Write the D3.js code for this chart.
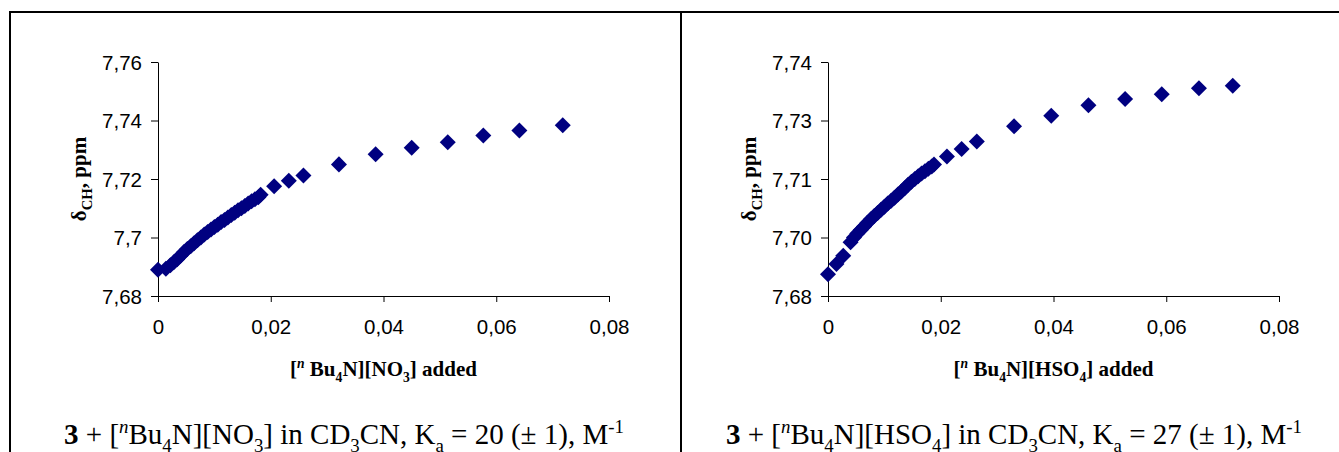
<!DOCTYPE html>
<html>
<head>
<meta charset="utf-8">
<script src="https://cdn.jsdelivr.net/npm/d3@7"></script>
<style>
  body { margin: 0; background: #fff; }
  svg { display: block; }
</style>
</head>
<body>
<div id="chart"></div>
<script>
// titration data: [nBu4N][NO3] added vs delta CH
const nitrateX = [0, 0.0014, 0.0022, 0.0028, 0.0034, 0.0040, 0.0046, 0.0052, 0.0058, 0.0064,
  0.0070, 0.0076, 0.0082, 0.0088, 0.0094, 0.0100, 0.0106, 0.0112, 0.0118, 0.0124,
  0.0130, 0.0136, 0.0142, 0.0148, 0.0154, 0.0160, 0.0166, 0.0172, 0.0178, 0.0182,
  0.0206, 0.0232, 0.0258, 0.0321, 0.0386, 0.0450, 0.0514, 0.0577, 0.0641, 0.0718];
const nitrateY = [7.6890, 7.6893, 7.6905, 7.6915, 7.6926, 7.6938, 7.6950, 7.6961, 7.6970, 7.6980,
  7.6991, 7.7000, 7.7010, 7.7019, 7.7027, 7.7036, 7.7044, 7.7053, 7.7060, 7.7068,
  7.7077, 7.7085, 7.7093, 7.7100, 7.7108, 7.7116, 7.7124, 7.7131, 7.7138, 7.7146,
  7.7175, 7.7194, 7.7212, 7.7250, 7.7285, 7.7307, 7.7326, 7.7349, 7.7366, 7.7384];

// [nBu4N][HSO4] added vs delta CH
const hso4X = [0, 0.0015, 0.0027, 0.0040, 0.0046, 0.0052, 0.0058, 0.0064, 0.0070, 0.0076,
  0.0082, 0.0088, 0.0094, 0.0100, 0.0106, 0.0112, 0.0118, 0.0124, 0.0130, 0.0136,
  0.0142, 0.0148, 0.0154, 0.0160, 0.0166, 0.0172, 0.0178, 0.0184, 0.0188,
  0.0211, 0.0237, 0.0264, 0.0330, 0.0396, 0.0462, 0.0527, 0.0592, 0.0658, 0.0718];
const hso4Y = [7.6856, 7.6882, 7.6903, 7.6938, 7.6950, 7.6960, 7.6969, 7.6978, 7.6988, 7.6997,
  7.7005, 7.7013, 7.7021, 7.7029, 7.7037, 7.7044, 7.7052, 7.7060, 7.7068, 7.7076,
  7.7085, 7.7093, 7.7100, 7.7107, 7.7114, 7.7120, 7.7126, 7.7132, 7.7137,
  7.7158, 7.7177, 7.7196, 7.7235, 7.7262, 7.7289, 7.7305, 7.7317, 7.7333, 7.7339];

const xTicks = [0, 0.02, 0.04, 0.06, 0.08];
const xTickLabels = ["0", "0,02", "0,04", "0,06", "0,08"];
const nitrateYTicks = [7.68, 7.70, 7.72, 7.74, 7.76];
const nitrateYTickLabels = ["7,68", "7,7", "7,72", "7,74", "7,76"];
const hso4YTicks = [7.68, 7.695, 7.71, 7.725, 7.74];
const hso4YTickLabels = ["7,68", "7,70", "7,71", "7,73", "7,74"];

const width = 1339, height = 452;
const sansFont = "'Liberation Sans', Arial, sans-serif";
const serifFont = "'Liberation Serif', 'Times New Roman', serif";

const svg = d3.select("#chart")
    .append("svg")
    .attr("width", width)
    .attr("height", height);

svg.append("rect").attr("width", width).attr("height", height).attr("fill", "#fff");

// table frame
const frame = svg.append("g").attr("stroke", "#000").attr("stroke-width", 2);
frame.append("line").attr("x1", 9).attr("x2", width).attr("y1", 12).attr("y2", 12);
frame.append("line").attr("x1", 10).attr("x2", 10).attr("y1", 11).attr("y2", height);
frame.append("line").attr("x1", 681).attr("x2", 681).attr("y1", 11).attr("y2", height);

// writes runs of text with sub/superscripts as tspans
function richText(text, parts, size) {
    let shift = 0;
    parts.forEach(p => {
        const target = p.v === "sub" ? size * 0.28 : p.v === "sup" ? -size * 0.38 : 0;
        const ts = text.append("tspan").text(p.t).attr("dy", target - shift);
        shift = target;
        if (p.v) ts.attr("font-size", size * (p.s || 0.65));
        if (p.b) ts.attr("font-weight", "bold");
        if (p.i) ts.attr("font-style", "italic");
    });
}

const panels = [
    {
        x0: 158, x1: 609, cx: 344, xs: nitrateX, ys: nitrateY,
        yDomain: [7.68, 7.76], yTicks: nitrateYTicks, yLabels: nitrateYTickLabels,
        anion: [{ t: "N][NO" }, { t: "3", v: "sub" }],
        caption: [{ t: "3", b: true }, { t: " + [" }, { t: "n", v: "sup", i: true }, { t: "Bu" },
            { t: "4", v: "sub" }, { t: "N][NO" }, { t: "3", v: "sub" }, { t: "] in CD" },
            { t: "3", v: "sub" }, { t: "CN, K" }, { t: "a", v: "sub" },
            { t: " = 20 (± 1), M" }, { t: "-1", v: "sup" }]
    },
    {
        x0: 828, x1: 1279, cx: 1014, xs: hso4X, ys: hso4Y,
        yDomain: [7.68, 7.74], yTicks: hso4YTicks, yLabels: hso4YTickLabels,
        anion: [{ t: "N][HSO" }, { t: "4", v: "sub" }],
        caption: [{ t: "3", b: true }, { t: " + [" }, { t: "n", v: "sup", i: true }, { t: "Bu" },
            { t: "4", v: "sub" }, { t: "N][HSO" }, { t: "4", v: "sub" }, { t: "] in CD" },
            { t: "3", v: "sub" }, { t: "CN, K" }, { t: "a", v: "sub" },
            { t: " = 27 (± 1), M" }, { t: "-1", v: "sup" }]
    }
];

const yTop = 62, yBottom = 296;
const diamond = d3.symbol().type(d3.symbolSquare).size(128);

panels.forEach(p => {
    const x = d3.scaleLinear().domain([0, 0.08]).range([p.x0, p.x1]);
    const y = d3.scaleLinear().domain(p.yDomain).range([yBottom, yTop]);

    const xAxis = svg.append("g")
        .attr("transform", `translate(0,${yBottom})`)
        .call(d3.axisBottom(x).tickValues(xTicks).tickSize(6).tickSizeOuter(0)
            .tickFormat((d, i) => xTickLabels[i]));
    xAxis.selectAll("text")
        .attr("y", 0).attr("dy", 38)
        .attr("font-family", sansFont).attr("font-size", 20.5).attr("fill", "#000");

    const yAxis = svg.append("g")
        .attr("transform", `translate(${p.x0},0)`)
        .call(d3.axisLeft(y).tickValues(p.yTicks).tickSize(7).tickSizeOuter(0)
            .tickFormat((d, i) => p.yLabels[i]));
    yAxis.selectAll("text")
        .attr("x", -16).attr("dy", "0.36em")
        .attr("font-family", sansFont).attr("font-size", 20.5).attr("fill", "#000");

    [xAxis, yAxis].forEach(a => {
        a.select(".domain").attr("stroke", "#000");
        a.selectAll(".tick line").attr("stroke", "#000");
    });

    // markers
    const pts = p.xs.map((v, i) => [v, p.ys[i]]);
    svg.append("g")
        .selectAll("path")
        .data(pts)
        .join("path")
        .attr("d", diamond)
        .attr("transform", d => `translate(${x(d[0])},${y(d[1])}) rotate(45)`)
        .attr("fill", "#000080");

    // axis titles
    const xTitle = svg.append("text")
        .attr("x", (p.x0 + p.x1) / 2).attr("y", 376)
        .attr("text-anchor", "middle")
        .attr("font-family", serifFont).attr("font-size", 21).attr("font-weight", "bold");
    richText(xTitle, [{ t: "[" }, { t: "n", v: "sup", i: true }, { t: " Bu" }, { t: "4", v: "sub" }]
        .concat(p.anion, [{ t: "] added" }]), 21);

    const yTitle = svg.append("text")
        .attr("transform", `translate(${p.x0 - 72},179) rotate(-90)`)
        .attr("text-anchor", "middle")
        .attr("font-family", serifFont).attr("font-size", 21).attr("font-weight", "bold");
    richText(yTitle, [{ t: "δ" }, { t: "CH", v: "sub", s: 0.7 }, { t: ", ppm" }], 21);

    const caption = svg.append("text")
        .attr("x", p.cx).attr("y", 444)
        .attr("text-anchor", "middle")
        .attr("font-family", serifFont).attr("font-size", 29);
    richText(caption, p.caption, 29);
});
</script>
</body>
</html>
